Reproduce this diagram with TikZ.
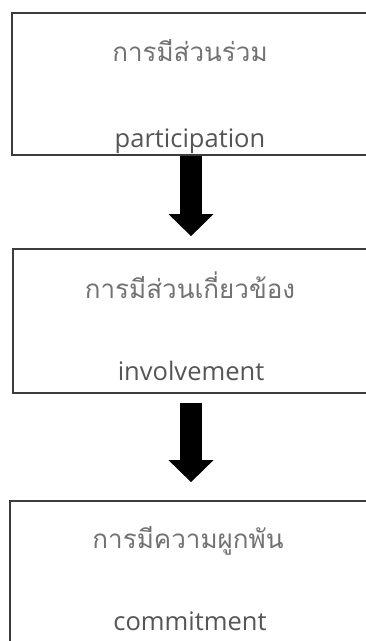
\documentclass[tikz,border=0pt]{standalone}
\usepackage{fontspec}
\newfontfamily\thaifont[Script=Thai]{Loma}
\newfontfamily\latinfont{Open Sans}
\usetikzlibrary{arrows.meta}
\usetikzlibrary{positioning}

\definecolor{boxgray}{HTML}{3C3C3C}
\definecolor{thgray}{HTML}{727272}
\definecolor{engray}{HTML}{555555}

\begin{document}
\begin{tikzpicture}[x=1pt,y=-1pt]
    \useasboundingbox (0,0) rectangle (366,641);
    \clip (0,0) rectangle (366,641);

    % the three stages, running off the right edge
    \begin{scope}[every node/.style={rectangle,draw=boxgray,line width=1.8pt,
            minimum width=400pt,inner sep=0pt}]
        \node[minimum height=142pt] (part) at (212,84) {};
        \node[minimum height=144pt] (invol) at (213,321) {};
        \node[minimum height=142pt] (commit) at (210,572) {};
    \end{scope}

    % labels
    \begin{scope}[every node/.style={anchor=base,inner sep=0pt}]
        \node[text=thgray,font=\thaifont\fontsize{26}{30}\selectfont] (partth) at (190,61) {การมีส่วนร่วม};
        \node[text=engray,font=\latinfont\fontsize{25.5}{30}\selectfont] (parten) at (190,147) {participation};
        \node[text=thgray,font=\thaifont\fontsize{26}{30}\selectfont] (involth) at (190,298) {การมีส่วนเกี่ยวข้อง};
        \node[text=engray,font=\latinfont\fontsize{25.5}{30}\selectfont] (involen) at (191,380) {involvement};
        \node[text=thgray,font=\thaifont\fontsize{26}{30}\selectfont] (committh) at (188,548) {การมีความผูกพัน};
        \node[text=engray,font=\latinfont\fontsize{25.5}{30}\selectfont] (commiten) at (190,630) {commitment};
    \end{scope}

    % arrows
    \coordinate (axis) at (191,0);
    \begin{scope}[every edge/.style={draw=black,line width=22pt,
            -{Triangle[width=45pt,length=22pt,line width=0pt]}}]
        \path (part.south -| axis) edge[shorten >=12pt] (invol.north -| axis);
        \path (invol.south -| axis) edge[shorten <=9pt,shorten >=18pt] (commit.north -| axis);
    \end{scope}
\end{tikzpicture}
\end{document}
